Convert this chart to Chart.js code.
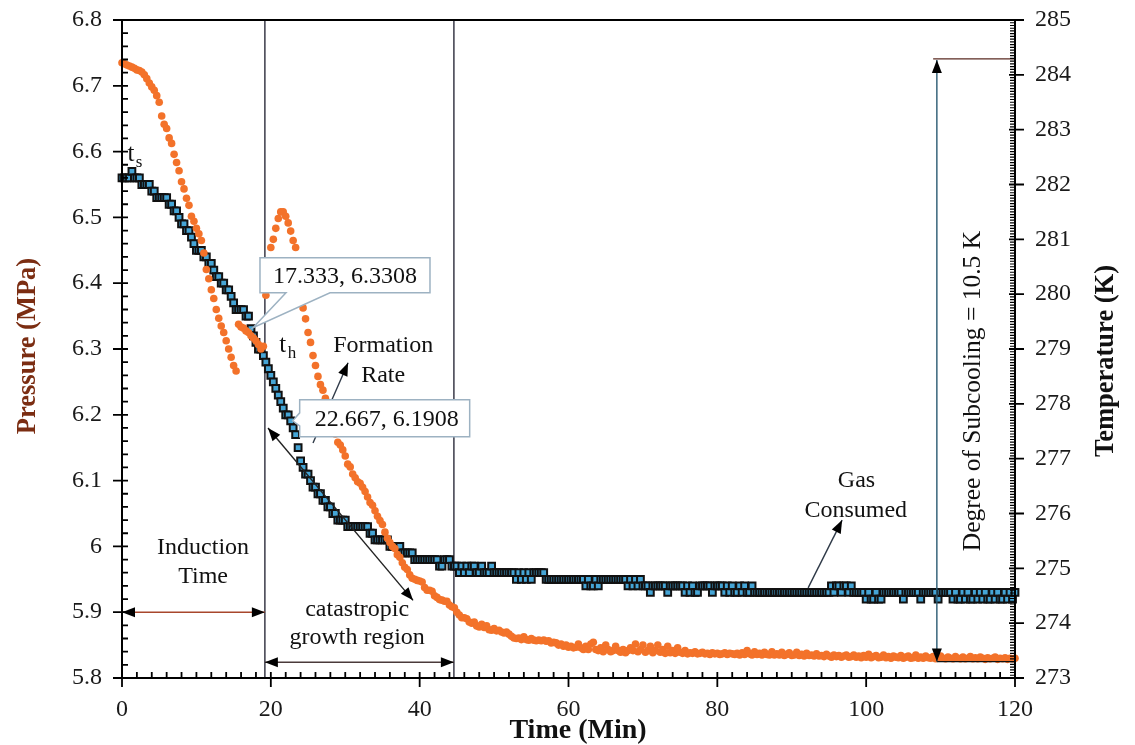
<!DOCTYPE html>
<html><head><meta charset="utf-8">
<script src="https://cdn.jsdelivr.net/npm/chart.js@4.4.0/dist/chart.umd.min.js"></script>
<style>html,body{margin:0;padding:0;background:#fff;overflow:hidden}</style>
</head><body>
<canvas id="c" width="1135" height="745"></canvas>
<script>
// sampling interval of the logger (minutes)
const timeStep = 1/3;
// Pressure (MPa), one reading every 20 s
const pressure = [
6.56,6.56,6.56,6.56,6.57,6.56,6.56,6.56,6.55,6.55,6.55,6.55,6.54,6.54,6.53,
6.53,6.53,6.53,6.53,6.52,6.52,6.51,6.51,6.50,6.49,6.49,6.48,6.48,6.47,6.46,
6.45,6.45,6.45,6.44,6.44,6.43,6.43,6.42,6.41,6.41,6.40,6.40,6.39,6.39,6.38,
6.37,6.36,6.36,6.36,6.36,6.35,6.35,6.3308,6.32,6.31,6.30,6.30,6.29,6.28,6.27,
6.26,6.25,6.24,6.23,6.22,6.21,6.20,6.20,6.1908,6.18,6.17,6.15,6.13,6.12,6.11,
6.11,6.10,6.09,6.09,6.08,6.08,6.07,6.07,6.06,6.06,6.05,6.05,6.04,6.04,6.04,
6.04,6.03,6.03,6.03,6.03,6.03,6.03,6.03,6.03,6.03,6.02,6.02,6.01,6.01,6.01,
6.01,6.01,6.01,6.00,6.00,6.00,6.00,6.00,5.99,5.99,5.99,5.99,5.99,5.98,5.98,
5.98,5.98,5.98,5.98,5.98,5.98,5.98,5.98,5.97,5.97,5.98,5.98,5.98,5.97,5.97,
5.97,5.96,5.97,5.96,5.97,5.96,5.97,5.97,5.96,5.96,5.97,5.96,5.96,5.96,5.97,
5.96,5.96,5.96,5.96,5.96,5.96,5.96,5.96,5.96,5.95,5.96,5.95,5.96,5.95,5.96,
5.95,5.96,5.96,5.96,5.96,5.96,5.95,5.95,5.95,5.95,5.95,5.95,5.95,5.95,5.95,
5.95,5.95,5.95,5.95,5.95,5.95,5.95,5.94,5.95,5.94,5.94,5.95,5.94,5.95,5.95,
5.95,5.95,5.95,5.95,5.95,5.95,5.95,5.95,5.95,5.94,5.95,5.94,5.95,5.94,5.95,
5.94,5.94,5.94,5.93,5.94,5.94,5.94,5.94,5.94,5.94,5.93,5.94,5.94,5.94,5.94,
5.94,5.94,5.93,5.94,5.93,5.94,5.93,5.93,5.94,5.94,5.94,5.94,5.94,5.93,5.94,
5.94,5.94,5.94,5.93,5.94,5.93,5.94,5.93,5.93,5.94,5.93,5.94,5.93,5.93,5.94,
5.93,5.93,5.93,5.93,5.93,5.93,5.93,5.93,5.93,5.93,5.93,5.93,5.93,5.93,5.93,
5.93,5.93,5.93,5.93,5.93,5.93,5.93,5.93,5.93,5.93,5.93,5.93,5.93,5.93,5.93,
5.93,5.94,5.93,5.94,5.94,5.93,5.94,5.94,5.93,5.94,5.93,5.93,5.93,5.93,5.93,
5.92,5.93,5.92,5.92,5.93,5.92,5.92,5.93,5.93,5.93,5.93,5.93,5.93,5.93,5.93,
5.92,5.93,5.93,5.93,5.93,5.93,5.93,5.92,5.93,5.93,5.93,5.93,5.93,5.93,5.92,
5.93,5.93,5.93,5.93,5.93,5.92,5.93,5.92,5.92,5.93,5.92,5.93,5.92,5.92,5.93,
5.92,5.93,5.92,5.93,5.92,5.92,5.93,5.92,5.93,5.92,5.92,5.93,5.92,5.93,5.92,
5.93];
// Temperature (K), one reading every 20 s
const temperature = [
284.22,284.2,284.18,284.16,284.14,284.12,284.09,284.08,284.05,284.0,283.93,283.85,283.78,283.72,283.62,
283.5,283.25,283.1,283.02,282.85,282.75,282.55,282.4,282.25,282.05,281.92,281.75,281.62,281.42,281.33,
281.2,281.1,280.98,280.75,280.45,280.28,280.08,279.92,279.72,279.56,279.42,279.3,279.15,279.0,278.85,
278.7,278.6,279.45,279.4,279.38,279.33,279.3,279.24,279.2,279.15,279.08,279.0,279.05,279.98,280.5,
280.85,281.0,281.2,281.38,281.5,281.5,281.42,281.3,281.15,280.98,280.85,280.5,280.1,279.75,279.55,
279.3,279.12,278.88,278.7,278.5,278.35,278.25,278.1,277.95,277.75,277.6,277.45,277.3,277.25,277.16,
277.05,276.9,276.85,276.72,276.65,276.58,276.55,276.48,276.4,276.3,276.2,276.15,276.05,275.95,275.87,
275.8,275.66,275.55,275.47,275.4,275.36,275.25,275.2,275.1,275.02,274.98,274.88,274.82,274.8,274.78,
274.77,274.75,274.65,274.6,274.6,274.58,274.5,274.47,274.43,274.42,274.4,274.4,274.33,274.3,274.28,
274.2,274.15,274.1,274.1,274.08,274.02,274.0,274.02,273.95,273.93,273.98,273.92,273.95,273.88,273.87,
273.9,273.86,273.87,273.84,273.82,273.84,273.8,273.76,273.73,273.72,273.73,273.7,273.75,273.7,273.69,
273.72,273.69,273.68,273.69,273.68,273.69,273.67,273.68,273.64,273.65,273.64,273.6,273.62,273.58,273.6,
273.56,273.58,273.55,273.56,273.62,273.55,273.52,273.58,273.52,273.62,273.65,273.52,273.5,273.55,273.48,
273.6,273.52,273.48,273.5,273.58,273.5,273.47,273.52,273.46,273.5,273.55,273.5,273.62,273.48,273.52,
273.6,273.47,273.5,273.58,273.46,273.5,273.6,273.47,273.52,273.45,273.58,273.46,273.5,273.45,273.55,
273.47,273.45,273.5,273.44,273.46,273.45,273.48,273.44,273.45,273.47,273.44,273.45,273.43,273.46,273.44,
273.45,273.43,273.44,273.46,273.43,273.45,273.44,273.43,273.45,273.42,273.46,273.43,273.5,273.44,273.42,
273.48,273.43,273.45,273.42,273.47,273.43,273.42,273.48,273.42,273.44,273.42,273.47,273.41,273.43,273.46,
273.41,273.42,273.47,273.41,273.43,273.4,273.45,273.41,273.42,273.4,273.44,273.4,273.41,273.39,273.43,
273.4,273.38,273.42,273.39,273.41,273.38,273.4,273.42,273.38,273.39,273.42,273.38,273.4,273.37,273.41,
273.38,273.43,273.37,273.39,273.41,273.37,273.38,273.42,273.37,273.39,273.36,273.4,273.38,273.37,273.41,
273.36,273.38,273.4,273.36,273.37,273.42,273.36,273.38,273.36,273.4,273.37,273.36,273.39,273.35,273.37,
273.4,273.36,273.35,273.38,273.36,273.35,273.39,273.36,273.35,273.38,273.35,273.36,273.39,273.35,273.37,
273.35,273.38,273.36,273.34,273.37,273.35,273.36,273.38,273.34,273.36,273.35,273.37,273.34,273.36,273.35,
273.36];
const timeTicks = [0,20,40,60,80,100,120];
const pressureTicks = [5.8,5.9,6.0,6.1,6.2,6.3,6.4,6.5,6.6,6.7,6.8];
const temperatureTicks = [273,274,275,276,277,278,279,280,281,282,283,284,285];

// annotation geometry in data units
const inductionEnd = 19.2, growthEnd = 44.6;
const labelPts = [{t:17.333, p:6.3308, text:'17.333, 6.3308'}, {t:22.667, p:6.1908, text:'22.667, 6.1908'}];

const SERIF = '"Liberation Serif", "Times New Roman", serif';
const tickFont = {family: SERIF, size: 24};

function arrowHead(ctx, x0, y0, x1, y1, len, w) {
  const a = Math.atan2(y1 - y0, x1 - x0);
  ctx.beginPath();
  ctx.moveTo(x1, y1);
  ctx.lineTo(x1 - len*Math.cos(a) + w/2*Math.sin(a), y1 - len*Math.sin(a) - w/2*Math.cos(a));
  ctx.lineTo(x1 - len*Math.cos(a) - w/2*Math.sin(a), y1 - len*Math.sin(a) + w/2*Math.cos(a));
  ctx.closePath();
  ctx.fill();
}
function arrow(ctx, x0, y0, x1, y1, color, both) {
  ctx.strokeStyle = color; ctx.lineWidth = 1.4;
  ctx.beginPath(); ctx.moveTo(x0, y0); ctx.lineTo(x1, y1); ctx.stroke();
  ctx.fillStyle = '#000';
  arrowHead(ctx, x0, y0, x1, y1, 13, 10);
  if (both) arrowHead(ctx, x1, y1, x0, y0, 13, 10);
}
function text(ctx, s, x, y, size, opts) {
  opts = opts || {};
  ctx.font = (opts.bold ? 'bold ' : '') + size + 'px ' + SERIF;
  ctx.fillStyle = opts.color || '#111';
  ctx.textAlign = opts.align || 'center';
  ctx.textBaseline = 'middle';
  ctx.fillText(s, x, y);
}

const annot = {
  id: 'annot',
  beforeDatasetsDraw(chart) {
    const {ctx, scales: {x, yP}} = chart;
    ctx.save();
    ctx.strokeStyle = '#3a3a48'; ctx.lineWidth = 1.5;
    [inductionEnd, growthEnd].forEach(t => {
      const px = x.getPixelForValue(t);
      ctx.beginPath(); ctx.moveTo(px, yP.getPixelForValue(6.8)); ctx.lineTo(px, yP.getPixelForValue(5.8)); ctx.stroke();
    });
    ctx.restore();
  },
  afterDatasetsDraw(chart) {
    const {ctx, scales: {x, yP, yT}} = chart;
    const X = t => x.getPixelForValue(t), P = v => yP.getPixelForValue(v), T = v => yT.getPixelForValue(v);
    ctx.save();
    // induction time
    arrow(ctx, X(0), P(5.9), X(inductionEnd), P(5.9), '#a8472c', true);
    text(ctx, 'Induction', X(10.9), P(5.998), 24);
    text(ctx, 'Time', X(10.9), P(5.954), 24);
    // catastrophic growth region
    arrow(ctx, X(inductionEnd), P(5.824), X(growthEnd), P(5.824), '#4a3a3a', true);
    text(ctx, 'catastropic', X(31.6), P(5.904), 24);
    text(ctx, 'growth region', X(31.6), P(5.861), 24);
    // slope double arrow
    arrow(ctx, X(39.11), P(5.918), X(19.62), P(6.18), '#222', true);
    // formation rate
    arrow(ctx, X(25.67), P(6.157), X(30.38), P(6.279), '#2f3a48', false);
    text(ctx, 'Formation', X(35.1), P(6.305), 24);
    text(ctx, 'Rate', X(35.1), P(6.26), 24);
    // gas consumed
    arrow(ctx, X(92.2), P(5.937), X(96.77), P(6.04), '#2f3a48', false);
    text(ctx, 'Gas', X(98.7), P(6.1), 24);
    text(ctx, 'Consumed', X(98.6), P(6.055), 24);
    // subcooling
    ctx.strokeStyle = '#5a2a22'; ctx.lineWidth = 1.3;
    ctx.beginPath(); ctx.moveTo(X(109.0), T(284.29)); ctx.lineTo(X(120), T(284.29)); ctx.stroke();
    ctx.strokeStyle = '#111';
    ctx.beginPath(); ctx.moveTo(X(109.5), T(273.3)); ctx.lineTo(X(120), T(273.3)); ctx.stroke();
    arrow(ctx, X(109.5), T(273.3), X(109.5), T(284.27), '#2a5a72', true);
    ctx.save();
    ctx.translate(X(114.4), P(6.236));
    ctx.rotate(-Math.PI/2);
    text(ctx, 'Degree of Subcooling = 10.5 K', 0, 0, 25.5);
    ctx.restore();
    // t_s, t_h
    text(ctx, 't', X(1.2), P(6.595), 25);
    text(ctx, 's', X(2.3), P(6.584), 17);
    text(ctx, 't', X(21.6), P(6.305), 25);
    text(ctx, 'h', X(22.85), P(6.293), 17);
    // value callouts
    ctx.lineWidth = 1.5; ctx.strokeStyle = '#9db2c2';
    {
      const tx = X(labelPts[0].t), ty = P(labelPts[0].p);
      const L = tx + 9, Tp = ty - 71, W = 170, H = 35;
      ctx.fillStyle = '#fff';
      ctx.beginPath();
      ctx.moveTo(L, Tp); ctx.lineTo(L + W, Tp); ctx.lineTo(L + W, Tp + H); ctx.lineTo(L + 70, Tp + H);
      ctx.lineTo(tx + 2, ty - 1); ctx.lineTo(L + 26, Tp + H); ctx.lineTo(L, Tp + H); ctx.closePath();
      ctx.fill(); ctx.stroke();
      text(ctx, labelPts[0].text, L + W/2, Tp + H/2 + 1, 24);
    }
    {
      const tx = X(labelPts[1].t), ty = P(labelPts[1].p);
      const L = tx + 9, Tp = ty - 21, W = 170, H = 37;
      ctx.fillStyle = '#fff';
      ctx.beginPath();
      ctx.moveTo(L, Tp); ctx.lineTo(L + W, Tp); ctx.lineTo(L + W, Tp + H); ctx.lineTo(L, Tp + H);
      ctx.lineTo(L, ty + 5); ctx.lineTo(tx + 2, ty); ctx.lineTo(L, ty - 8); ctx.closePath();
      ctx.fill(); ctx.stroke();
      text(ctx, labelPts[1].text, L + W/2 + 2, Tp + H/2 + 1, 24);
    }
    ctx.restore();
  },
  afterDraw(chart) {
    const {ctx, chartArea: a, scales: {x, yP, yT}} = chart;
    ctx.save();
    ctx.strokeStyle = '#000'; ctx.lineWidth = 2;
    ctx.strokeRect(a.left, a.top, a.right - a.left, a.bottom - a.top);
    ctx.lineWidth = 1.8;
    ctx.beginPath();
    // left axis ticks
    pressureTicks.forEach(v => { const y = yP.getPixelForValue(v); ctx.moveTo(a.left - 9, y); ctx.lineTo(a.left + 6, y); });
    for (let k = 0; k <= 50; k++) { if (k % 5 === 0) continue; const y = yP.getPixelForValue(5.8 + k*0.02); ctx.moveTo(a.left, y); ctx.lineTo(a.left + 6, y); }
    // right axis ticks
    temperatureTicks.forEach(v => { const y = yT.getPixelForValue(v); ctx.moveTo(a.right - 6, y); ctx.lineTo(a.right + 9, y); });
    ctx.stroke();
    ctx.lineWidth = 1.2; ctx.beginPath();
    for (let k = 0; k <= 240; k++) { if (k % 20 === 0) continue; const y = yT.getPixelForValue(273 + k*0.05); ctx.moveTo(a.right - 5, y); ctx.lineTo(a.right, y); }
    ctx.stroke();
    ctx.lineWidth = 1.8; ctx.beginPath();
    timeTicks.forEach(v => { const px = x.getPixelForValue(v); ctx.moveTo(px, a.bottom - 6); ctx.lineTo(px, a.bottom + 9); });
    for (let k = 0; k <= 60; k++) { if (k % 10 === 0) continue; const px = x.getPixelForValue(k*2); ctx.moveTo(px, a.bottom - 6); ctx.lineTo(px, a.bottom); }
    ctx.stroke();
    // axis titles
    text(ctx, 'Time (Min)', 578, 731, 28, {bold: true});
    ctx.save(); ctx.translate(28, 346); ctx.rotate(-Math.PI/2);
    text(ctx, 'Pressure (MPa)', 0, 0, 26.5, {bold: true, color: '#7b2d12'}); ctx.restore();
    ctx.save(); ctx.translate(1106, 361); ctx.rotate(-Math.PI/2);
    text(ctx, 'Temperature (K)', 0, 0, 26.5, {bold: true}); ctx.restore();
    ctx.restore();
  }
};

const axisCommon = {
  type: 'linear',
  grid: {display: false, drawTicks: false},
  border: {display: false},
};
function noPad(s) { s.paddingTop = 0; s.paddingBottom = 0; s.paddingLeft = 0; s.paddingRight = 0; }

new Chart(document.getElementById('c'), {
  type: 'scatter',
  data: {
    datasets: [
      {label: 'Temperature', yAxisID: 'yT', data: temperature.map((v, i) => ({x: i*timeStep, y: v})),
       pointStyle: 'circle', pointRadius: 3.8, pointBackgroundColor: '#f3722a', pointBorderWidth: 0, showLine: false, clip: false},
      {label: 'Pressure', yAxisID: 'yP', data: pressure.map((v, i) => ({x: i*timeStep, y: v})),
       pointStyle: 'rect', pointRadius: 4.8, pointBackgroundColor: '#45a5d6', pointBorderColor: '#111', pointBorderWidth: 2, showLine: false, clip: false}
    ]
  },
  options: {
    responsive: false, animation: false, events: [], devicePixelRatio: 1,
    layout: {padding: {top: 20, left: 0, right: 0, bottom: 0}},
    plugins: {legend: {display: false}, tooltip: {enabled: false}},
    scales: {
      x: Object.assign({}, axisCommon, {position: 'bottom', min: 0, max: 120,
        ticks: {font: tickFont, color: '#1a1a1a', padding: 17, maxRotation: 0, autoSkip: false, callback: v => String(v)},
        afterBuildTicks: s => { s.ticks = timeTicks.map(v => ({value: v})); },
        afterFit: s => { s.height = 67; noPad(s); }}),
      yP: Object.assign({}, axisCommon, {position: 'left', min: 5.8, max: 6.8,
        ticks: {font: tickFont, color: '#1a1a1a', padding: 20, autoSkip: false, callback: v => String(+(+v).toFixed(1))},
        afterBuildTicks: s => { s.ticks = pressureTicks.map(v => ({value: v})); },
        afterFit: s => { s.width = 122; noPad(s); }}),
      yT: Object.assign({}, axisCommon, {position: 'right', min: 273, max: 285,
        ticks: {font: tickFont, color: '#1a1a1a', padding: 20, autoSkip: false, callback: v => String(v)},
        afterBuildTicks: s => { s.ticks = temperatureTicks.map(v => ({value: v})); },
        afterFit: s => { s.width = 120; noPad(s); }})
    }
  },
  plugins: [annot]
});
</script>
</body></html>
